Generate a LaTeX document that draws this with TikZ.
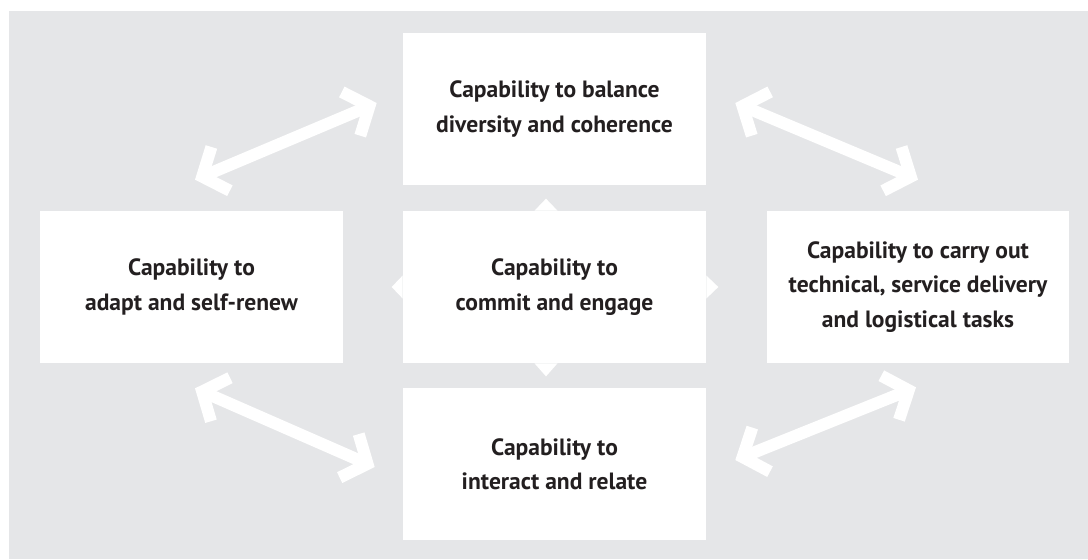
\documentclass[tikz,border=0pt]{standalone}
\usepackage{fontspec}
\setmainfont{PT Sans}
\usetikzlibrary{arrows.meta}
\definecolor{sfondo}{HTML}{E5E6E8}
\definecolor{testo}{HTML}{231F20}
\begin{document}
\begin{tikzpicture}[x=0.02cm, y=-0.02cm]
    % Definizione stili
    \tikzstyle{capacity}=[fill=white, minimum width=6.06cm, minimum height=3.04cm, align=center, text=testo, font=\fontsize{13.4}{19.6}\selectfont\bfseries]
    \tikzstyle{link}=[{Straight Barb[length=0.4cm, width=0.95cm]}-{Straight Barb[length=0.4cm, width=0.95cm]}, line width=0.24cm, white]
    \tikzstyle{nub}=[fill=white]

    % Sfondo
    \useasboundingbox (0,0) rectangle (1088,559);
    \fill[sfondo] (9,11) rectangle (1088,559);

    % Capacita
    \node[capacity] (balance) at (554.5,109) {Capability to balance\\diversity and coherence};
    \node[capacity] (commit) at (554.5,287) {Capability to\\commit and engage};
    \node[capacity] (interact) at (554.5,464) {Capability to\\interact and relate};
    \node[capacity] (adapt) at (191.5,287) {Capability to\\adapt and self-renew};
    \node[capacity] (tasks) at (918,287) {Capability to carry out\\technical, service delivery\\and logistical tasks};

    % Punte del riquadro centrale
    \fill[nub] ([xshift=-0.17cm]commit.north) ++(-11.5,0) -- ++(11.5,-12) -- ++(11.5,12) -- cycle;
    \fill[nub] ([xshift=-0.17cm]commit.south) ++(-11.5,0) -- ++(11.5,13) -- ++(11.5,-13) -- cycle;
    \fill[nub] (commit.west) ++(0,-11.5) -- ++(-11,11.5) -- ++(11,11.5) -- cycle;
    \fill[nub] (commit.east) ++(0,-11.5) -- ++(12,11.5) -- ++(-12,11.5) -- cycle;

    % Frecce di collegamento
    \draw[link] ([shift={(3.5,-31)}]adapt.north) -- ([shift={(-26,-6)}]balance.west);
    \draw[link] ([shift={(29,-6)}]balance.east) -- ([shift={(0,-31)}]tasks.north);
    \draw[link] ([shift={(3.5,25)}]adapt.south) -- ([shift={(-28,3)}]interact.west);
    \draw[link] ([shift={(-2,24)}]tasks.south) -- ([shift={(29,-4)}]interact.east);
\end{tikzpicture}
\end{document}
